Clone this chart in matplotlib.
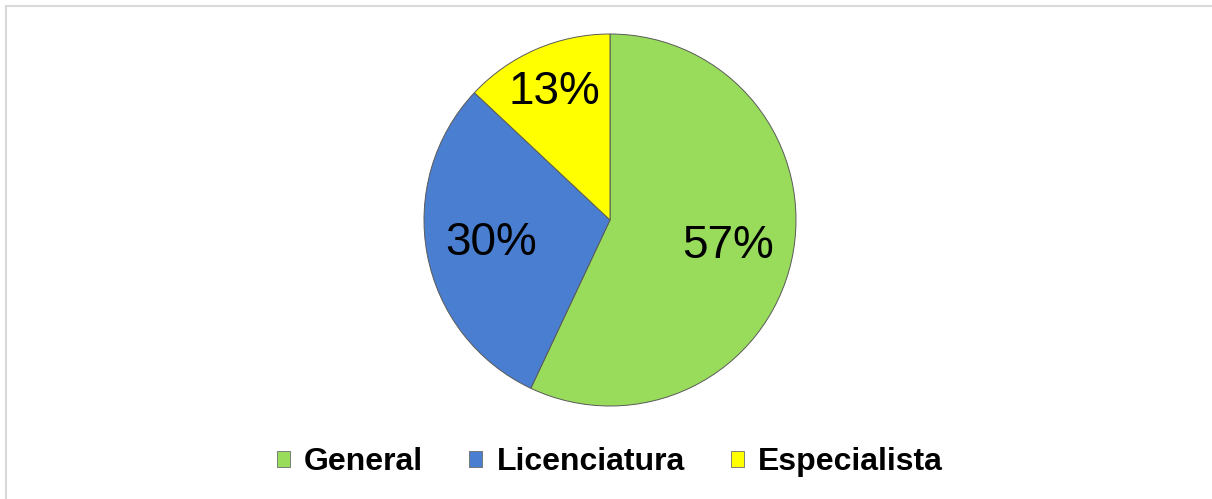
import numpy as np
import matplotlib.pyplot as plt
from matplotlib.patches import Patch
from matplotlib.lines import Line2D

labels = ['General', 'Licenciatura', 'Especialista']
values = [57, 30, 13]
colors = ['#99DB5A', '#4A7ED0', '#FFFF00']
label_dist = [0.65, 0.65, 0.75]

plt.rcParams['font.family'] = ['Liberation Sans', 'DejaVu Sans']

W, H = 1212, 499
fig = plt.figure(figsize=(W / 100, H / 100), dpi=100)

# light gray frame on top and left
fig.add_artist(Line2D([5.5 / W, 1], [1 - 5.5 / H, 1 - 5.5 / H], color='#D9D9D9', lw=1.5))
fig.add_artist(Line2D([5.5 / W, 5.5 / W], [0, 1 - 5.5 / H], color='#D9D9D9', lw=1.5))

cx, cy, r = 610, 220, 186
ax = fig.add_axes([(cx - r) / W, (H - cy - r) / H, 2 * r / W, 2 * r / H])
wedges, _ = ax.pie(values, colors=colors, startangle=90, counterclock=False,
                   wedgeprops=dict(edgecolor='#5A5A5A', linewidth=0.7))
ax.set_xlim(-1, 1)
ax.set_ylim(-1, 1)
ax.set_aspect('equal')
ax.axis('off')

for w, v, d in zip(wedges, values, label_dist):
    ang = np.deg2rad((w.theta1 + w.theta2) / 2)
    ax.text(d * np.cos(ang), d * np.sin(ang), f'{v}%', ha='center', va='center',
            fontsize=33, color='black')

handles = [Patch(facecolor=c, edgecolor='#6B6B6B', linewidth=0.6) for c in colors]
fig.legend(handles, labels, loc='center', bbox_to_anchor=(610 / W, 1 - 462 / H),
           ncol=3, frameon=False, handlelength=0.4, handleheight=0.4,
           handletextpad=0.45, columnspacing=1.45,
           prop={'size': 23, 'weight': 'bold'})

fig.savefig('out.png', dpi=100)
